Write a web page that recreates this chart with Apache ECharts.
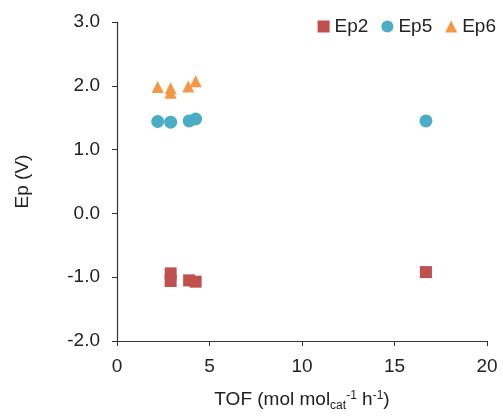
<!DOCTYPE html>
<html>
<head>
<meta charset="utf-8">
<script src="https://cdn.jsdelivr.net/npm/echarts@6/dist/echarts.min.js"></script>
<style>
  html, body { margin: 0; padding: 0; background: #fff; }
  #chart { width: 503px; height: 417px; }
</style>
</head>
<body>
<div id="chart"></div>
<script>
// 数据：TOF 与 Ep
const ep2 = [[2.9, -0.94], [2.9, -1.06], [3.9, -1.05], [4.25, -1.07], [16.7, -0.92]];
const ep5 = [[2.2, 1.44], [2.9, 1.43], [3.9, 1.45], [4.25, 1.48], [16.7, 1.45]];
const ep6 = [[2.2, 1.98], [2.9, 1.96], [2.9, 1.89], [3.85, 1.99], [4.25, 2.07]];
const seriesNames = ['Ep2', 'Ep5', 'Ep6'];

const axisColor = '#333';
const textColor = '#222';
const chart = echarts.init(document.getElementById('chart'));

const option = {
  animation: false,
  textStyle: { fontFamily: 'Liberation Sans, Arial, sans-serif' },
  grid: { left: 117, right: 16, top: 22, bottom: 74 },
  legend: {
    data: [
      { name: seriesNames[0], icon: 'rect' },
      { name: seriesNames[1], icon: 'circle' },
      { name: seriesNames[2], icon: 'triangle' },
    ],
    right: 2,
    top: 12,
    itemWidth: 12,
    itemHeight: 12,
    itemGap: 13,
    textStyle: { fontSize: 19, color: textColor },
  },
  xAxis: {
    type: 'value',
    min: 0,
    max: 20,
    interval: 5,
    name: '{m|TOF (mol mol}{s|cat}{p|-1}{m| h}{p|-1}{m|)}',
    nameLocation: 'middle',
    nameGap: 47,
    nameTextStyle: {
      rich: {
        m: { fontSize: 19, color: textColor },
        s: { fontSize: 12, color: textColor, padding: [12, 0, 0, 0] },
        p: { fontSize: 12, color: textColor, padding: [0, 0, 8, 0] },
      },
    },
    axisLine: { show: true, onZero: false, lineStyle: { color: axisColor, width: 1.2 } },
    axisTick: { show: true, inside: false, length: 5, lineStyle: { color: axisColor } },
    axisLabel: { fontSize: 19, color: textColor, margin: 16 },
    splitLine: { show: false },
  },
  yAxis: {
    type: 'value',
    min: -2,
    max: 3,
    interval: 1,
    name: 'Ep (V)',
    nameLocation: 'middle',
    nameGap: 85,
    nameTextStyle: { fontSize: 19, color: textColor },
    axisLine: { show: true, onZero: false, lineStyle: { color: axisColor, width: 1.2 } },
    axisTick: { show: true, inside: false, length: 5, lineStyle: { color: axisColor } },
    axisLabel: { fontSize: 19, color: textColor, margin: 17, formatter: (v) => v.toFixed(1) },
    splitLine: { show: false },
  },
  series: [
    { name: seriesNames[0], type: 'scatter', symbol: 'rect', symbolSize: 12, itemStyle: { color: '#C0504D', opacity: 1 }, data: ep2 },
    { name: seriesNames[1], type: 'scatter', symbol: 'circle', symbolSize: 13, itemStyle: { color: '#4BACC6', opacity: 1 }, data: ep5 },
    { name: seriesNames[2], type: 'scatter', symbol: 'triangle', symbolSize: 12, itemStyle: { color: '#F79646', opacity: 1 }, data: ep6 },
  ],
};

chart.setOption(option);
</script>
</body>
</html>
